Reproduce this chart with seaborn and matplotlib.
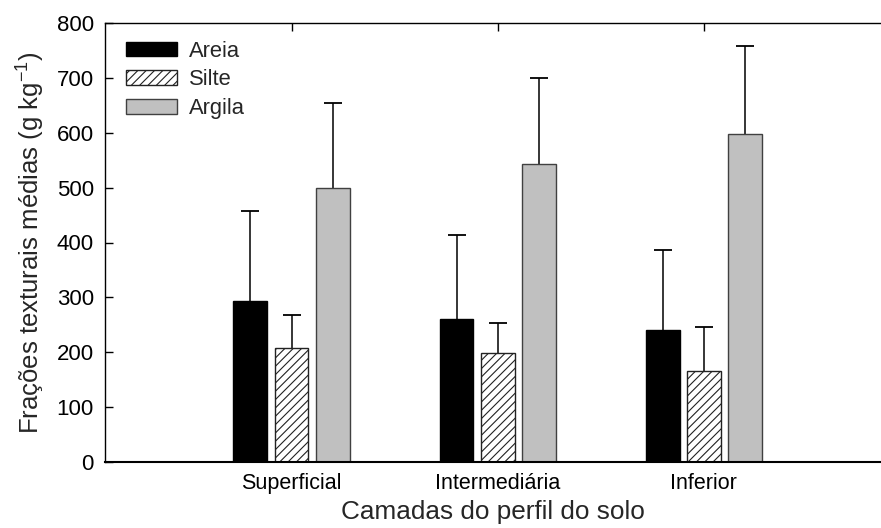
import matplotlib
matplotlib.use("Agg")
import matplotlib.pyplot as plt
import seaborn as sns
import pandas as pd
from matplotlib.patches import Patch

# ---- data ----
camadas = ["Superficial", "Intermediária", "Inferior"]
fracoes = ["Areia", "Silte", "Argila"]
areia = [294, 261, 241]
silte = [207, 199, 165]
argila = [500, 543, 598]
areia_sd = [163, 153, 145]
silte_sd = [61, 55, 81]
argila_sd = [155, 156, 160]
y_ticks = [0, 100, 200, 300, 400, 500, 600, 700, 800]

means = {"Areia": areia, "Silte": silte, "Argila": argila}
sds = {"Areia": areia_sd, "Silte": silte_sd, "Argila": argila_sd}

rows = []
for f in fracoes:
    for c, v in zip(camadas, means[f]):
        rows.append({"Camada": c, "Fracao": f, "Valor": v})
df = pd.DataFrame(rows)

sns.set_style("ticks")
plt.rcParams["font.family"] = ["Liberation Sans", "DejaVu Sans"]
plt.rcParams["hatch.linewidth"] = 0.8
plt.rcParams["mathtext.fontset"] = "custom"
plt.rcParams["mathtext.rm"] = "Liberation Sans"

fig = plt.figure(figsize=(8.81, 5.28), dpi=100)
ax = fig.add_axes([105 / 881, (528 - 462) / 528, 1 - 105 / 881, (462 - 23) / 528])

face = {"Areia": "black", "Silte": "white", "Argila": "#c0c0c0"}
edge = {"Areia": "black", "Silte": "#222222", "Argila": "#404040"}
hatch = {"Areia": None, "Silte": "////", "Argila": None}

sns.barplot(data=df, x="Camada", y="Valor", hue="Fracao", order=camadas,
            hue_order=fracoes, palette=face, width=0.6, gap=0.18,
            errorbar=None, legend=False, ax=ax)

for f, cont in zip(fracoes, ax.containers):
    xs, hs = [], []
    for p in cont.patches:
        p.set_facecolor(face[f])
        p.set_edgecolor(edge[f])
        p.set_linewidth(1.0)
        p.set_zorder(2)
        if hatch[f]:
            p.set_hatch(hatch[f])
        xs.append(p.get_x() + p.get_width() / 2)
        hs.append(p.get_height())
    tops = [h + s for h, s in zip(hs, sds[f])]
    ax.vlines(xs, hs, tops, colors="black", linewidth=1.1, zorder=1)
    ax.plot(xs, tops, linestyle="none", marker="_", markersize=12.5,
            markeredgewidth=1.3, color="black", zorder=1)

ax.set_xlim(-0.905, 2.859)
ax.set_ylim(0, 800)
ax.set_yticks(y_ticks)

ax.spines["right"].set_visible(False)
ax.spines["top"].set_visible(True)
ax.spines["bottom"].set_linewidth(1.5)
ax.spines["left"].set_linewidth(1.0)
ax.spines["top"].set_linewidth(1.0)
for s in ax.spines.values():
    s.set_color("black")

ax.tick_params(axis="y", direction="in", length=6, width=1, labelsize=16,
               pad=8, colors="black", right=False)
ax.tick_params(axis="x", direction="in", length=6, width=1, labelsize=15.5,
               pad=8, colors="black", top=True)

ax.set_xlabel("Camadas do perfil do solo", fontsize=18.8, labelpad=4)
ax.set_ylabel("Frações texturais médias (g kg$^{\\mathregular{-1}}$)",
              fontsize=18.5, labelpad=8)

handles = [Patch(facecolor=face[f], edgecolor=edge[f], hatch=hatch[f],
                 linewidth=1.0, label=f) for f in fracoes]
ax.legend(handles=handles, loc="upper left", frameon=False, fontsize=15.8,
          handlelength=2.3, handleheight=0.65, handletextpad=0.55,
          labelspacing=0.35, bbox_to_anchor=(0.005, 1.0), borderaxespad=0.4)

ax.grid(False)
fig.savefig("out.png", dpi=100)
